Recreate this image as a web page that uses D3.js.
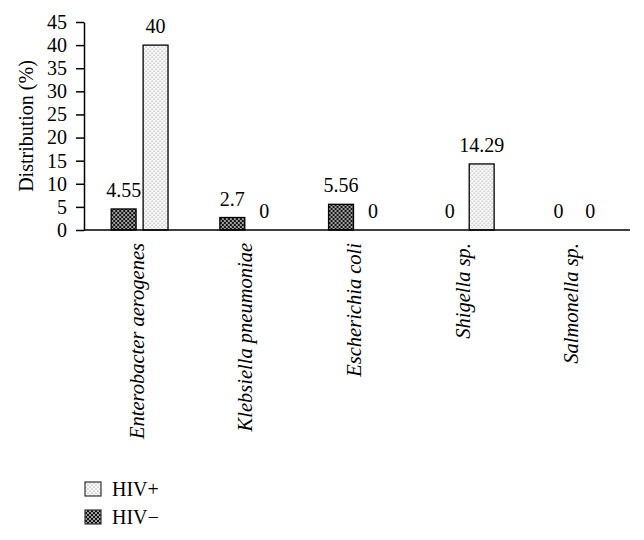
<!DOCTYPE html>
<html>
<head>
<meta charset="utf-8">
<script src="https://cdn.jsdelivr.net/npm/d3@7"></script>
<style>
  body { margin: 0; background: #fff; }
  svg { display: block; font-family: "Liberation Serif", "Times New Roman", serif; }
</style>
</head>
<body>
<div id="chart"></div>
<script>
const categories = ['Enterobacter aerogenes', 'Klebsiella pneumoniae', 'Escherichia coli', 'Shigella sp.', 'Salmonella sp.'];
const seriesNames = ['HIV\u2212', 'HIV+'];
const hivNeg = [4.55, 2.7, 5.56, 0, 0];
const hivPos = [40, 0, 0, 14.29, 0];
const valueLabels = [['4.55', '2.7', '5.56', '0', '0'], ['40', '0', '0', '14.29', '0']];
const yTicks = [0, 5, 10, 15, 20, 25, 30, 35, 40, 45];

const width = 644, height = 540;
const svg = d3.select('#chart').append('svg')
  .attr('width', width)
  .attr('height', height);

// patterns for the two series
const defs = svg.append('defs');
const dark = defs.append('pattern')
  .attr('id', 'pat-neg').attr('patternUnits', 'userSpaceOnUse')
  .attr('width', 4).attr('height', 4);
dark.append('rect').attr('width', 4).attr('height', 4).attr('fill', '#151515');
dark.append('circle').attr('cx', 1).attr('cy', 1).attr('r', 0.9).attr('fill', '#e0e0e0');
dark.append('circle').attr('cx', 3).attr('cy', 3).attr('r', 0.9).attr('fill', '#e0e0e0');

const light = defs.append('pattern')
  .attr('id', 'pat-pos').attr('patternUnits', 'userSpaceOnUse')
  .attr('width', 4).attr('height', 4);
light.append('rect').attr('width', 4).attr('height', 4).attr('fill', '#fafafa');
light.append('circle').attr('cx', 1).attr('cy', 1).attr('r', 0.6).attr('fill', '#777');
light.append('circle').attr('cx', 3).attr('cy', 3).attr('r', 0.6).attr('fill', '#777');

const fills = ['url(#pat-neg)', 'url(#pat-pos)'];

const plotLeft = 84, plotRight = 630, plotTop = 22, plotBottom = 230;
const fontSize = 20;

const x0 = d3.scaleBand()
  .domain(categories)
  .range([plotLeft, plotRight])
  .paddingInner(0.477)
  .paddingOuter(0.25);

const x1 = d3.scaleBand()
  .domain([0, 1])
  .range([0, x0.bandwidth()])
  .paddingInner(0.22);

const y = d3.scaleLinear()
  .domain([0, 45])
  .range([plotBottom, plotTop]);

// Y axis
const yAxis = svg.append('g')
  .attr('transform', `translate(${plotLeft},0)`)
  .call(d3.axisLeft(y).tickValues(yTicks).tickSize(8).tickPadding(9).tickSizeOuter(0));
yAxis.select('.domain').attr('stroke', '#000').attr('stroke-width', 1.5);
yAxis.selectAll('.tick line').attr('stroke', '#000').attr('stroke-width', 1.5);
yAxis.selectAll('.tick text')
  .attr('font-family', '"Liberation Serif", serif')
  .attr('font-size', fontSize)
  .attr('fill', '#000');

svg.append('text')
  .attr('transform', `translate(33,${(plotTop + plotBottom) / 2}) rotate(-90)`)
  .attr('text-anchor', 'middle')
  .attr('font-size', fontSize)
  .text('Distribution (%)');

// bars
const series = [hivNeg, hivPos];
const groups = svg.append('g').selectAll('g')
  .data(categories)
  .join('g')
  .attr('transform', d => `translate(${x0(d)},0)`);

groups.selectAll('rect')
  .data((d, i) => series.map((s, k) => ({ k, v: s[i] })).filter(b => b.v > 0))
  .join('rect')
  .attr('x', d => x1(d.k))
  .attr('y', d => y(d.v))
  .attr('width', x1.bandwidth())
  .attr('height', d => y(0) - y(d.v))
  .attr('fill', d => fills[d.k])
  .attr('stroke', '#000')
  .attr('stroke-width', 1.3);

groups.selectAll('text')
  .data((d, i) => series.map((s, k) => ({ k, v: s[i], label: valueLabels[k][i] })))
  .join('text')
  .attr('x', d => x1(d.k) + x1.bandwidth() / 2)
  .attr('y', d => y(d.v) - 12)
  .attr('text-anchor', 'middle')
  .attr('font-size', fontSize)
  .text(d => d.label);

// X axis line
svg.append('line')
  .attr('x1', plotLeft).attr('x2', plotRight)
  .attr('y1', y(0)).attr('y2', y(0))
  .attr('stroke', '#000').attr('stroke-width', 1.5);

// category labels
svg.append('g').selectAll('text')
  .data(categories)
  .join('text')
  .attr('transform', d => `translate(${x0(d) + x0.bandwidth() / 2 + 4},${plotBottom + 13}) rotate(-90)`)
  .attr('text-anchor', 'end')
  .attr('font-style', 'italic')
  .attr('font-size', 20.5)
  .text(d => d);

// legend
const legendOrder = [1, 0];
const legend = svg.append('g').selectAll('g')
  .data(legendOrder)
  .join('g')
  .attr('transform', (d, i) => `translate(85,${482 + i * 28})`);
legend.append('rect')
  .attr('width', 16).attr('height', 14)
  .attr('fill', d => fills[d])
  .attr('stroke', '#333').attr('stroke-width', 1.2);
legend.append('text')
  .attr('x', 27).attr('y', 14)
  .attr('font-size', fontSize)
  .text(d => seriesNames[d]);
</script>
</body>
</html>
